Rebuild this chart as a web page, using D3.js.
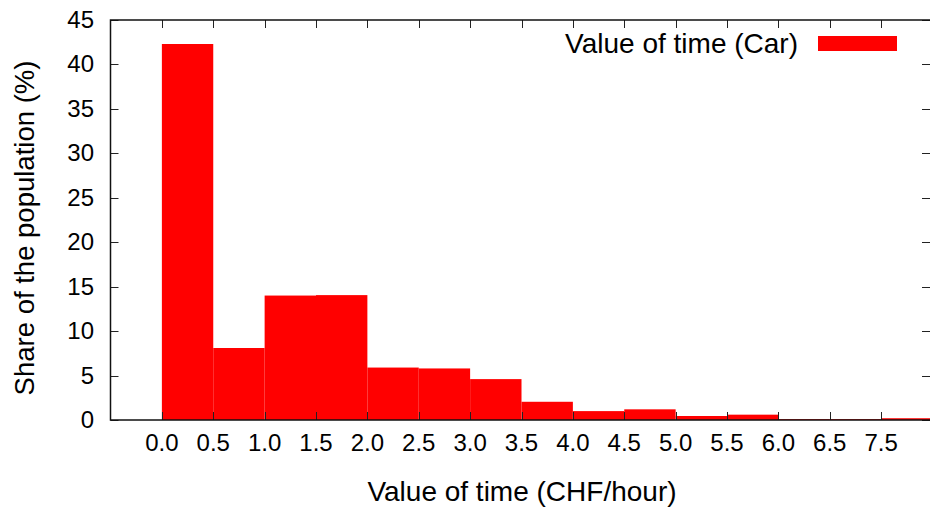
<!DOCTYPE html>
<html>
<head>
<meta charset="utf-8">
<script src="https://cdn.jsdelivr.net/npm/d3@7"></script>
<style>
  body { margin: 0; background: #fff; }
  svg text { font-family: "Liberation Sans", "DejaVu Sans", sans-serif; fill: #000; }
</style>
</head>
<body>
<svg id="chart" width="930" height="507"></svg>
<script>
// Bin labels (left edge of each bin) and share of population in %
const binLabels = ["0.0", "0.5", "1.0", "1.5", "2.0", "2.5", "3.0", "3.5", "4.0", "4.5", "5.0", "5.5", "6.0", "6.5", "7.5"];
const shares = [42.3, 8.1, 14.0, 14.05, 5.9, 5.8, 4.6, 2.05, 1.0, 1.2, 0.45, 0.6, 0.1, 0.1, 0.2];
const yTicks = [0, 5, 10, 15, 20, 25, 30, 35, 40, 45];
const seriesName = "Value of time (Car)";

const svg = d3.select("#chart");
// plot frame (window.top is taken, so use other names)
const plotL = 110.5, plotR = 932.5, plotT = 20, plotB = 420;

// x positions are bin indexes, one unit of padding on the left
const x = d3.scaleLinear().domain([-1, binLabels.length]).range([plotL, plotR]);
const y = d3.scaleLinear().domain([0, 45]).range([plotB, plotT]);

// bars
svg.append("g")
  .selectAll("rect")
  .data(shares)
  .join("rect")
    .attr("x", (d, i) => x(i))
    .attr("y", d => y(d))
    .attr("width", (d, i) => x(i + 1) - x(i))
    .attr("height", d => y(0) - y(d))
    .attr("fill", "#ff0000");

// ticks, all pointing inward (gnuplot style)
const tickLen = 8;
const ticks = svg.append("g").attr("stroke", "#222").attr("stroke-width", 1);
binLabels.forEach((lab, i) => {
  const px = Math.round(x(i)) + 0.5;
  ticks.append("line").attr("x1", px).attr("x2", px).attr("y1", plotB).attr("y2", plotB - tickLen);
  ticks.append("line").attr("x1", px).attr("x2", px).attr("y1", plotT).attr("y2", plotT + tickLen);
});
yTicks.forEach(v => {
  const py = Math.round(y(v)) + 0.5;
  ticks.append("line").attr("x1", plotL).attr("x2", plotL + tickLen).attr("y1", py).attr("y2", py);
  ticks.append("line").attr("x1", 930).attr("x2", 930 - tickLen).attr("y1", py).attr("y2", py);
});

// frame
svg.append("rect")
  .attr("x", plotL).attr("y", plotT)
  .attr("width", plotR - plotL).attr("height", plotB - plotT)
  .attr("fill", "none").attr("stroke", "#111").attr("stroke-width", 1.5);

// tick labels
svg.append("g").selectAll("text")
  .data(binLabels)
  .join("text")
    .attr("x", (d, i) => x(i))
    .attr("y", 451)
    .attr("text-anchor", "middle")
    .attr("font-size", 24)
    .text(d => d);

svg.append("g").selectAll("text")
  .data(yTicks)
  .join("text")
    .attr("x", 94)
    .attr("y", d => y(d) + 8)
    .attr("text-anchor", "end")
    .attr("font-size", 24)
    .text(d => d);

// axis titles
svg.append("text")
  .attr("x", 522).attr("y", 501)
  .attr("text-anchor", "middle")
  .attr("font-size", 28)
  .text("Value of time (CHF/hour)");

svg.append("text")
  .attr("transform", "translate(34,228) rotate(-90)")
  .attr("text-anchor", "middle")
  .attr("font-size", 27.5)
  .text("Share of the population (%)");

// legend
svg.append("text")
  .attr("x", 798).attr("y", 53)
  .attr("text-anchor", "end")
  .attr("font-size", 28)
  .text(seriesName);
svg.append("rect")
  .attr("x", 818).attr("y", 36)
  .attr("width", 79).attr("height", 15)
  .attr("fill", "#ff0000");
</script>
</body>
</html>
